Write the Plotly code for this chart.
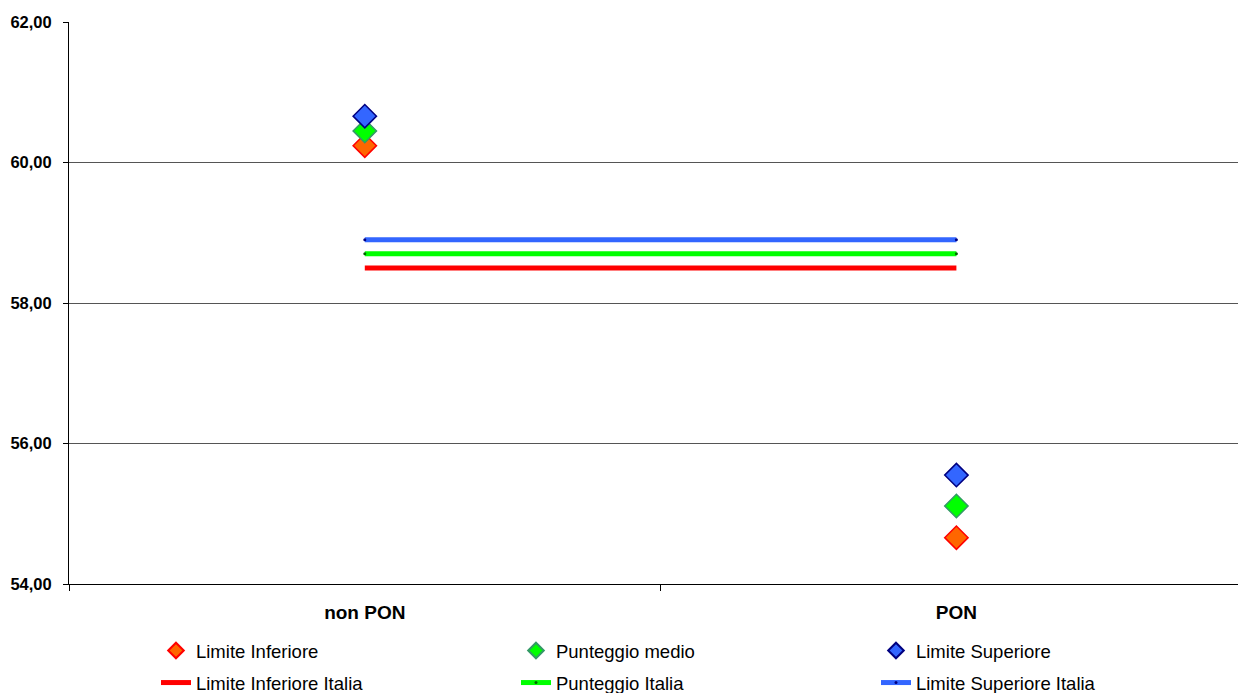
import plotly.graph_objects as go

categories = ["non PON", "PON"]
limite_inferiore = [60.24, 54.66]
punteggio_medio = [60.45, 55.11]
limite_superiore = [60.66, 55.55]
limite_inferiore_italia = [58.50, 58.50]
punteggio_italia = [58.70, 58.70]
limite_superiore_italia = [58.90, 58.90]
y_ticks = [54, 56, 58, 60, 62]

xpos = list(range(len(categories)))
FONT = "Liberation Sans, Arial, sans-serif"

fig = go.Figure()

# Italy reference lines (legend2, second row)
fig.add_trace(go.Scatter(x=xpos, y=limite_inferiore_italia, mode="lines",
                         line=dict(color="#FF0000", width=5),
                         name="Limite Inferiore Italia", legend="legend2"))
fig.add_trace(go.Scatter(x=xpos, y=punteggio_italia, mode="lines+markers",
                         line=dict(color="#00FF00", width=5),
                         marker=dict(color="#006600", size=3, symbol="circle"),
                         name="Punteggio Italia", legend="legend2"))
fig.add_trace(go.Scatter(x=xpos, y=limite_superiore_italia, mode="lines+markers",
                         line=dict(color="#3366FF", width=5),
                         marker=dict(color="#000080", size=3, symbol="circle"),
                         name="Limite Superiore Italia", legend="legend2"))

# Point markers (legend, first row)
fig.add_trace(go.Scatter(x=xpos, y=limite_inferiore, mode="markers",
                         marker=dict(symbol="diamond", size=18, color="#FF6600",
                                     line=dict(color="#FF0000", width=1.5)),
                         name="Limite Inferiore", legend="legend"))
fig.add_trace(go.Scatter(x=xpos, y=punteggio_medio, mode="markers",
                         marker=dict(symbol="diamond", size=18, color="#00FF00",
                                     line=dict(color="#339966", width=1.5)),
                         name="Punteggio medio", legend="legend"))
fig.add_trace(go.Scatter(x=xpos, y=limite_superiore, mode="markers",
                         marker=dict(symbol="diamond", size=18, color="#3366FF",
                                     line=dict(color="#000080", width=1.5)),
                         name="Limite Superiore", legend="legend"))

legend_common = dict(orientation="h", xanchor="left", yanchor="middle",
                     x=0.0744, entrywidth=315,
                     font=dict(family=FONT, size=18.5, color="#000000"),
                     bgcolor="rgba(0,0,0,0)", traceorder="normal")

fig.update_layout(
    width=1238, height=693,
    margin=dict(l=69, r=0, t=22, b=109, autoexpand=False),
    paper_bgcolor="white", plot_bgcolor="white",
    separators=",.",
    showlegend=True,
    legend=dict(y=-0.1192, itemsizing="constant", **legend_common),
    legend2=dict(y=-0.1762, itemsizing="trace", **legend_common),
    xaxis=dict(range=[-0.5, 1.476], tickmode="array", tickvals=xpos,
               ticktext=categories, ticks="", showgrid=False, zeroline=False,
               showline=True, linecolor="#000000", linewidth=1,
               ticklabelstandoff=11,
               tickfont=dict(family=FONT, size=19, color="#000000", weight="bold"),
               minor=dict(tickmode="array", tickvals=[-0.5, 0.5], ticks="outside",
                          ticklen=6, tickcolor="#000000", showgrid=False)),
    yaxis=dict(range=[54, 62], tickmode="array", tickvals=y_ticks,
               tickformat=".2f", ticks="outside", ticklen=5, tickcolor="#000000",
               showgrid=True, gridcolor="#555555", gridwidth=1, zeroline=False,
               showline=True, linecolor="#000000", linewidth=1,
               ticklabelstandoff=8,
               tickfont=dict(family=FONT, size=16.5, color="#000000", weight="bold")),
)

fig.write_html("out.html", config={"displayModeBar": False},
               post_script="document.body.style.margin='0';document.body.style.overflow='hidden';")
